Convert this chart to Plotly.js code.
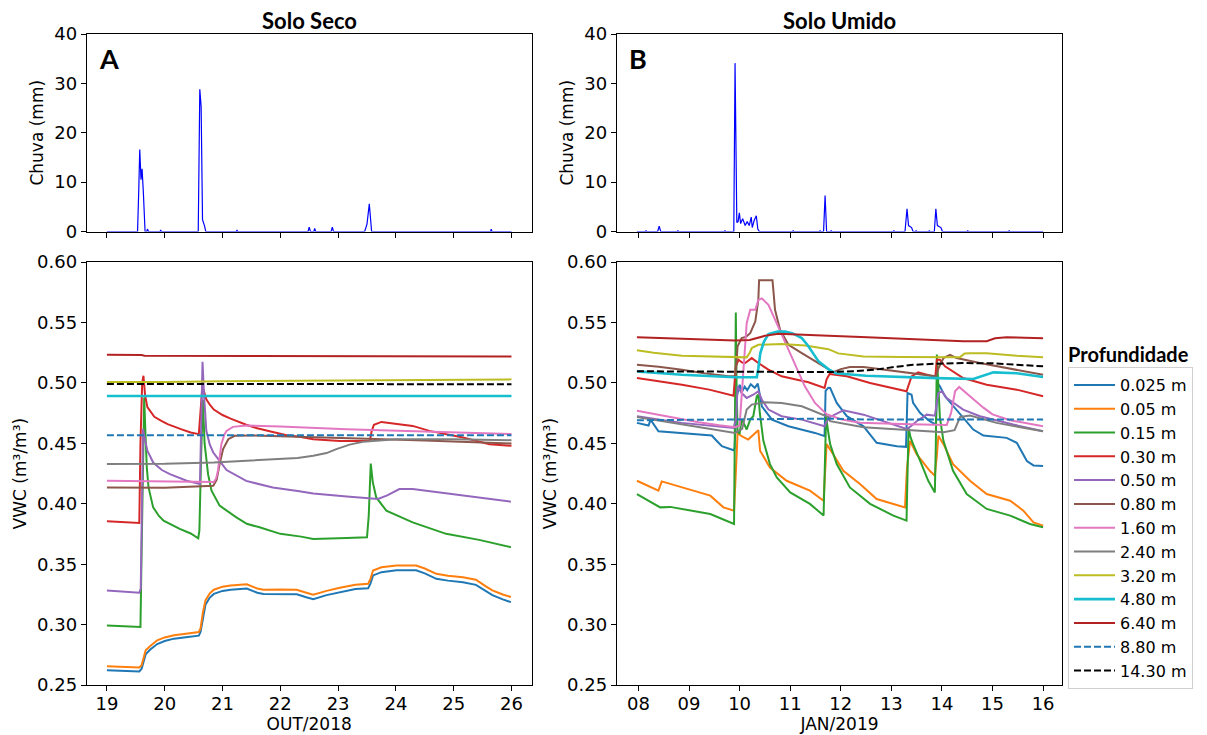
<!DOCTYPE html>
<html><head><meta charset="utf-8">
<script src="https://cdn.plot.ly/plotly-3.0.1.min.js"></script>
<style>html,body{margin:0;padding:0;background:#fff}#chart{width:1207px;height:735px}</style>
</head><body><div id="chart"></div>
<script>
// ---------------- DATA ----------------
const depthLabels = ['0.025 m','0.05 m','0.15 m','0.30 m','0.50 m','0.80 m','1.60 m','2.40 m','3.20 m','4.80 m','6.40 m','8.80 m','14.30 m'];

const secoTickVals = [19,20,21,22,23,24,25,26];
const secoTickText = ['19','20','21','22','23','24','25','26'];
const umidoTickVals = [8,9,10,11,12,13,14,15,16];
const umidoTickText = ['08','09','10','11','12','13','14','15','16'];
const vwcTickVals = [0.25,0.30,0.35,0.40,0.45,0.50,0.55,0.60];
const rainTickVals = [0,10,20,30,40];

// Rain (mm), Solo Seco (OUT/2018)
const rainSecoT = [19.00,19.53,19.55,19.568,19.59,19.608,19.63,19.66,19.69,19.70,19.72,19.92,19.93,19.94,20.58,20.607,20.63,20.654,20.69,20.71,21.24,21.25,21.26,22.48,22.50,22.52,22.58,22.595,22.61,22.88,22.90,22.92,23.46,23.50,23.54,23.58,25.64,25.65,25.66,26.00];
const rainSecoV = [0,0,8,16.6,10.5,12.7,8,0,0,0.5,0,0,0.3,0,0,28.8,25.3,2.4,1.1,0,0,0.3,0,0,0.9,0,0,0.6,0,0,0.9,0,0,1.5,5.6,0,0,0.5,0,0];

// Rain (mm), Solo Umido (JAN/2019)
const rainUmidoT = [7.97,8.14,8.15,8.16,8.38,8.41,8.44,8.77,8.78,8.79,9.70,9.71,9.72,9.885,9.91,9.93,9.945,9.97,9.995,10.02,10.06,10.11,10.15,10.19,10.23,10.25,10.29,10.33,10.36,10.39,11.05,11.06,11.07,11.58,11.59,11.60,11.66,11.69,11.72,11.80,11.81,11.82,13.04,13.05,13.06,13.27,13.31,13.34,13.40,13.43,13.48,13.49,13.50,13.74,13.75,13.76,13.85,13.88,13.91,13.98,14.01,14.50,14.51,14.52,15.32,15.33,15.34,16.00];
const rainUmidoV = [0,0,0.2,0,0,1.1,0,0,0.2,0,0,0.2,0,0,34.1,14,1.8,2.0,3.8,1.6,2.6,1.2,2.0,1.2,2.9,0.8,2.3,3.2,0.5,0,0,0.2,0,0,0.2,0,0,7.3,0,0,0.2,0,0,0.2,0,0,4.6,1.2,0.8,0,0,0.2,0,0,0.2,0,0,4.6,1.2,0.8,0,0,0.2,0,0,0.2,0,0];

// VWC (m3/m3), Solo Seco: [day, value]
const seco_0025 = [[19.0,0.2624],[19.3,0.2617],[19.56,0.2613],[19.60,0.2635],[19.67,0.2755],[19.75,0.2795],[19.87,0.284],[20.0,0.2865],[20.16,0.2885],[20.4,0.2898],[20.59,0.291],[20.62,0.294],[20.66,0.306],[20.705,0.3165],[20.78,0.3225],[20.85,0.3255],[21.0,0.328],[21.14,0.329],[21.42,0.330],[21.6,0.3265],[21.71,0.3255],[22.0,0.3255],[22.285,0.3252],[22.45,0.3228],[22.57,0.3212],[22.8,0.3245],[23.03,0.327],[23.3,0.3295],[23.52,0.3302],[23.56,0.334],[23.605,0.3408],[23.75,0.3435],[24.01,0.345],[24.35,0.345],[24.5,0.3425],[24.70,0.338],[24.9,0.3365],[25.16,0.3352],[25.385,0.333],[25.55,0.328],[25.67,0.3245],[25.85,0.321],[25.99,0.3187]];
const seco_005 = [[19.0,0.2657],[19.3,0.265],[19.56,0.2646],[19.60,0.2665],[19.67,0.2789],[19.75,0.2825],[19.87,0.2871],[20.0,0.2895],[20.16,0.2913],[20.4,0.2928],[20.59,0.294],[20.62,0.297],[20.66,0.310],[20.705,0.3201],[20.78,0.326],[20.85,0.329],[21.0,0.3315],[21.14,0.3325],[21.42,0.3334],[21.6,0.330],[21.71,0.329],[22.0,0.3292],[22.285,0.329],[22.45,0.3265],[22.57,0.3248],[22.8,0.328],[23.03,0.3306],[23.3,0.333],[23.52,0.3339],[23.56,0.338],[23.605,0.3449],[23.75,0.3475],[24.01,0.349],[24.35,0.349],[24.5,0.3465],[24.70,0.3421],[24.9,0.3405],[25.16,0.3393],[25.385,0.3372],[25.55,0.332],[25.67,0.3284],[25.85,0.325],[25.99,0.3229]];
const seco_015 = [[19.0,0.2993],[19.3,0.2985],[19.58,0.2981],[19.60,0.36],[19.625,0.45],[19.645,0.488],[19.665,0.46],[19.69,0.43],[19.72,0.4136],[19.80,0.3971],[19.90,0.390],[19.98,0.3861],[20.26,0.3793],[20.45,0.3755],[20.58,0.3715],[20.60,0.378],[20.63,0.44],[20.66,0.486],[20.69,0.45],[20.75,0.4246],[20.81,0.4109],[20.95,0.3985],[21.24,0.3889],[21.42,0.3835],[21.64,0.3806],[22.0,0.3752],[22.36,0.3729],[22.57,0.371],[23.15,0.3718],[23.50,0.3724],[23.53,0.39],[23.565,0.4334],[23.60,0.418],[23.66,0.4053],[23.835,0.3944],[24.29,0.3847],[24.87,0.3752],[25.44,0.3702],[25.99,0.3641]];
const seco_030 = [[19.0,0.3856],[19.3,0.3848],[19.35,0.3842],[19.56,0.3842],[19.58,0.45],[19.61,0.500],[19.632,0.506],[19.66,0.49],[19.70,0.480],[19.76,0.4755],[19.82,0.472],[19.95,0.4685],[20.05,0.466],[20.28,0.4618],[20.45,0.459],[20.59,0.4577],[20.62,0.475],[20.65,0.496],[20.67,0.4945],[20.72,0.4865],[20.78,0.482],[20.85,0.478],[21.0,0.4735],[21.14,0.4705],[21.41,0.4655],[21.6,0.4625],[21.87,0.4595],[22.11,0.4568],[22.33,0.4555],[22.57,0.4535],[23.03,0.4521],[23.55,0.452],[23.58,0.46],[23.62,0.4655],[23.75,0.4678],[24.0,0.4665],[24.29,0.4645],[24.58,0.4604],[25.16,0.4549],[25.62,0.4494],[26.0,0.448]];
const seco_050 = [[19.0,0.3284],[19.3,0.3275],[19.56,0.3265],[19.585,0.33],[19.60,0.40],[19.625,0.462],[19.65,0.455],[19.7,0.444],[19.80,0.4342],[19.95,0.428],[20.09,0.4246],[20.38,0.4191],[20.61,0.4164],[20.63,0.47],[20.654,0.5176],[20.68,0.49],[20.72,0.4604],[20.78,0.449],[20.84,0.4425],[20.95,0.4355],[21.07,0.428],[21.41,0.419],[21.87,0.4135],[22.33,0.4105],[22.57,0.4085],[23.15,0.406],[23.69,0.404],[23.85,0.407],[24.06,0.4123],[24.29,0.4123],[24.87,0.4087],[25.44,0.4053],[25.99,0.4018]];
const seco_080 = [[19.0,0.4136],[19.6,0.4131],[20.0,0.4133],[20.84,0.415],[20.9,0.420],[20.95,0.4329],[21.01,0.4453],[21.10,0.4535],[21.21,0.4563],[21.5,0.4566],[22.5,0.455],[23.5,0.4538],[24.5,0.4525],[25.3,0.451],[26.0,0.450]];
const seco_160 = [[19.0,0.4191],[20.0,0.4188],[20.85,0.418],[20.89,0.421],[20.92,0.4274],[20.98,0.4494],[21.03,0.457],[21.07,0.4604],[21.18,0.4637],[21.41,0.4648],[22.0,0.464],[23.15,0.4618],[24.29,0.4604],[25.2,0.459],[26.0,0.4577]];
const seco_240 = [[19.0,0.4329],[20.0,0.4331],[20.85,0.4342],[21.71,0.4362],[22.3,0.438],[22.57,0.4398],[22.8,0.442],[22.97,0.4453],[23.2,0.449],[23.43,0.4513],[24.0,0.4535],[25.0,0.4535],[26.0,0.4527]];
const seco_320 = [[19.0,0.5008],[20.0,0.5008],[21.0,0.5015],[22.0,0.5018],[23.0,0.5022],[24.0,0.5025],[25.0,0.5025],[26.0,0.503]];
const seco_480 = [[19.0,0.4893],[22.5,0.4893],[26.0,0.4893]];
const seco_640 = [[19.0,0.5233],[19.6,0.5232],[19.65,0.5225],[21.0,0.5224],[23.0,0.5222],[24.5,0.5221],[26.0,0.522]];
const seco_880 = [[19.0,0.4568],[22.5,0.4568],[26.0,0.4568]];
const seco_1430 = [[19.0,0.4992],[22.5,0.4991],[26.0,0.499]];

// VWC (m3/m3), Solo Umido: [day, value]
const umido_0025 = [[7.97,0.467],[8.20,0.4648],[8.23,0.4685],[8.26,0.4684],[8.395,0.4601],[8.8,0.4585],[9.19,0.4574],[9.45,0.4565],[9.55,0.452],[9.65,0.4477],[9.88,0.4444],[9.90,0.446],[9.95,0.490],[10.0,0.4985],[10.05,0.493],[10.1,0.497],[10.15,0.494],[10.22,0.499],[10.3,0.496],[10.36,0.4995],[10.44,0.4807],[10.64,0.4697],[10.965,0.4642],[11.49,0.4587],[11.68,0.456],[11.70,0.4934],[11.755,0.4961],[11.79,0.4959],[11.92,0.4835],[12.12,0.4725],[12.45,0.4642],[12.58,0.457],[12.71,0.4505],[13.11,0.4477],[13.29,0.4472],[13.32,0.4917],[13.40,0.4903],[13.43,0.4835],[13.57,0.4752],[13.76,0.4684],[13.88,0.4656],[13.91,0.500],[13.96,0.4973],[14.06,0.489],[14.29,0.478],[14.62,0.4615],[14.82,0.4565],[15.28,0.4546],[15.48,0.4505],[15.68,0.4354],[15.81,0.4318],[16.0,0.4313]];
const umido_005 = [[7.97,0.4191],[8.395,0.4109],[8.46,0.4186],[8.76,0.415],[9.42,0.4068],[9.68,0.3971],[9.89,0.3944],[9.93,0.43],[9.96,0.4587],[10.04,0.456],[10.17,0.4532],[10.31,0.4587],[10.37,0.461],[10.405,0.4439],[10.60,0.430],[10.93,0.4191],[11.39,0.4109],[11.66,0.4026],[11.69,0.43],[11.72,0.4494],[11.85,0.4411],[12.05,0.4274],[12.38,0.4164],[12.71,0.404],[13.27,0.3971],[13.31,0.43],[13.37,0.4521],[13.50,0.4411],[13.76,0.4274],[13.86,0.4233],[13.90,0.44],[13.93,0.4563],[14.03,0.4494],[14.22,0.4329],[14.555,0.4191],[14.885,0.4081],[15.35,0.4026],[15.61,0.3944],[15.81,0.3847],[16.0,0.382]];
const umido_015 = [[7.97,0.4081],[8.43,0.3971],[8.63,0.3975],[9.09,0.3944],[9.42,0.3916],[9.89,0.3834],[9.905,0.45],[9.925,0.5583],[9.94,0.50],[9.96,0.46],[10.0,0.458],[10.04,0.4697],[10.09,0.466],[10.14,0.4615],[10.21,0.4697],[10.27,0.4725],[10.34,0.489],[10.37,0.4903],[10.40,0.475],[10.47,0.4521],[10.60,0.4329],[10.735,0.4219],[11.0,0.4095],[11.39,0.400],[11.66,0.3903],[11.69,0.43],[11.71,0.472],[11.75,0.46],[11.79,0.4494],[11.92,0.4329],[12.18,0.4136],[12.58,0.400],[13.04,0.3903],[13.30,0.3861],[13.32,0.42],[13.34,0.4631],[13.38,0.455],[13.43,0.4494],[13.57,0.4356],[13.73,0.4191],[13.86,0.4095],[13.88,0.45],[13.90,0.5236],[13.93,0.5016],[13.96,0.4714],[14.03,0.4521],[14.22,0.4274],[14.49,0.4081],[14.885,0.3958],[15.35,0.3903],[15.74,0.3834],[16.0,0.3806]];
const umido_030 = [[7.97,0.5041],[8.86,0.4986],[9.4,0.4945],[9.88,0.4895],[9.925,0.5138],[9.98,0.5192],[10.05,0.517],[10.11,0.5165],[10.24,0.5206],[10.37,0.5165],[10.57,0.511],[10.83,0.5055],[11.36,0.5006],[11.68,0.4959],[11.72,0.503],[11.78,0.5075],[11.85,0.507],[12.12,0.5055],[12.58,0.500],[13.30,0.4931],[13.40,0.5055],[13.53,0.5088],[13.83,0.5055],[13.87,0.5055],[13.90,0.5192],[13.96,0.5192],[14.06,0.5138],[14.42,0.5041],[14.885,0.4986],[15.48,0.4945],[16.0,0.489]];
const umido_050 = [[7.97,0.4725],[8.86,0.467],[9.88,0.4628],[9.93,0.47],[9.96,0.4973],[10.04,0.4917],[10.14,0.4876],[10.27,0.4903],[10.37,0.4931],[10.44,0.4862],[10.57,0.478],[10.83,0.4725],[11.23,0.4697],[11.68,0.4642],[11.72,0.468],[11.79,0.4719],[12.05,0.4774],[12.45,0.4738],[13.30,0.462],[13.38,0.464],[13.50,0.4684],[13.70,0.4738],[13.86,0.473],[13.93,0.4917],[14.0,0.4931],[14.095,0.4876],[14.42,0.478],[14.75,0.4725],[15.41,0.4656],[16.0,0.4601]];
const umido_080 = [[7.97,0.5151],[8.4,0.5135],[8.86,0.511],[9.3,0.508],[9.78,0.5055],[9.92,0.5055],[9.96,0.5303],[10.04,0.5371],[10.12,0.538],[10.21,0.5412],[10.31,0.5509],[10.37,0.5687],[10.385,0.5849],[10.65,0.5849],[10.67,0.5756],[10.70,0.5605],[10.80,0.544],[10.965,0.5316],[11.23,0.5247],[11.5,0.518],[11.755,0.5115],[11.85,0.509],[12.0,0.5115],[12.18,0.5132],[12.45,0.5132],[13.11,0.5096],[13.76,0.506],[13.88,0.5055],[13.93,0.512],[14.03,0.5206],[14.16,0.5233],[14.29,0.5206],[14.75,0.5165],[15.41,0.5115],[16.0,0.5068]];
const umido_160 = [[7.97,0.4771],[8.53,0.4725],[9.19,0.4675],[9.6,0.465],[9.92,0.4634],[10.0,0.4648],[10.04,0.49],[10.075,0.5165],[10.14,0.5495],[10.21,0.5605],[10.31,0.5605],[10.37,0.5687],[10.44,0.570],[10.57,0.5646],[10.70,0.5522],[10.90,0.533],[11.10,0.5138],[11.29,0.4972],[11.49,0.4835],[11.72,0.4742],[12.0,0.470],[12.38,0.4672],[13.37,0.4659],[14.095,0.4653],[14.18,0.475],[14.26,0.4931],[14.34,0.4967],[14.45,0.4925],[14.555,0.489],[14.82,0.4796],[15.0,0.474],[15.35,0.4692],[16.0,0.4642]];
const umido_240 = [[7.97,0.4719],[8.86,0.4656],[9.91,0.4587],[10.05,0.462],[10.14,0.478],[10.24,0.4821],[10.50,0.484],[10.83,0.4835],[11.23,0.4807],[11.755,0.4719],[11.79,0.4684],[12.45,0.4634],[13.43,0.4606],[14.03,0.4593],[14.25,0.461],[14.36,0.4719],[14.555,0.473],[15.08,0.467],[16.0,0.4601]];
const umido_320 = [[7.97,0.527],[8.3,0.525],[8.86,0.5225],[9.4,0.5218],[9.88,0.5212],[10.14,0.5212],[10.2,0.525],[10.24,0.5289],[10.37,0.5316],[10.83,0.5322],[11.3,0.531],[11.755,0.528],[11.95,0.5245],[12.45,0.522],[13.2,0.5215],[13.9,0.5214],[14.36,0.5214],[14.45,0.5245],[14.555,0.5247],[14.885,0.5247],[15.48,0.5225],[16.0,0.5214]];
const umido_480 = [[7.97,0.5096],[8.86,0.5068],[9.91,0.5047],[10.34,0.5047],[10.37,0.512],[10.41,0.5247],[10.48,0.534],[10.57,0.5405],[10.75,0.5425],[10.90,0.5426],[11.05,0.541],[11.23,0.5371],[11.35,0.531],[11.43,0.5261],[11.56,0.5179],[11.755,0.5115],[11.9,0.508],[12.5,0.506],[13.11,0.5049],[13.9,0.504],[14.62,0.5033],[14.8,0.5055],[15.02,0.5088],[15.48,0.508],[16.0,0.5049]];
const umido_640 = [[7.97,0.5379],[8.5,0.537],[9.2,0.536],[9.91,0.5352],[10.2,0.5355],[10.5,0.539],[10.77,0.5407],[11.2,0.5398],[11.755,0.539],[12.4,0.538],[13.11,0.5366],[13.8,0.5355],[14.42,0.5346],[14.885,0.5346],[15.05,0.537],[15.28,0.5379],[15.6,0.5378],[16.0,0.5371]];
const umido_880 = [[7.97,0.4692],[9.0,0.4695],[10.0,0.4698],[11.0,0.470],[11.755,0.4705],[12.5,0.4698],[13.5,0.4698],[14.5,0.4695],[15.5,0.4692],[16.0,0.4698]];
const umido_1430 = [[7.97,0.5097],[9.0,0.5095],[10.0,0.509],[11.0,0.5089],[11.79,0.509],[12.3,0.5098],[12.78,0.5115],[13.1,0.5135],[13.43,0.515],[13.9,0.516],[14.42,0.5165],[15.0,0.5163],[15.5,0.515],[16.0,0.5138]];

const secoSeries = [seco_0025,seco_005,seco_015,seco_030,seco_050,seco_080,seco_160,seco_240,seco_320,seco_480,seco_640,seco_880,seco_1430];
const umidoSeries = [umido_0025,umido_005,umido_015,umido_030,umido_050,umido_080,umido_160,umido_240,umido_320,umido_480,umido_640,umido_880,umido_1430];

// ---------------- STYLE ----------------
const colors = ['#1f77b4','#ff7f0e','#2ca02c','#d62728','#9467bd','#8c564b','#e377c2','#7f7f7f','#bcbd22','#17becf','#b22222','#1f77b4','#000000'];
const dashes = ['solid','solid','solid','solid','solid','solid','solid','solid','solid','solid','solid','7px,3px','7px,3px'];
const widths = [2,2,2,2,2,2,2,2,2,2.6,2,2,2];

const W = 1207, H = 735;
const px = (a,b) => [a/W, b/W];
const py = (top,bottom) => [1-bottom/H, 1-top/H];
const LEFT = px(86.7,531.7), RIGHT = px(616.7,1062.3);
const TOP = py(34,231.5), BOT = py(262,685.3);

const traces = [];
secoSeries.forEach((s,i)=>{
  traces.push({type:'scatter',mode:'lines',x:s.map(p=>p[0]),y:s.map(p=>p[1]),xaxis:'x',yaxis:'y',
    name:depthLabels[i],legendgroup:depthLabels[i],showlegend:false,
    line:{color:colors[i],width:widths[i],dash:dashes[i]},hoverinfo:'skip'});
});
umidoSeries.forEach((s,i)=>{
  traces.push({type:'scatter',mode:'lines',x:s.map(p=>p[0]),y:s.map(p=>p[1]),xaxis:'x2',yaxis:'y2',
    name:depthLabels[i],legendgroup:depthLabels[i],showlegend:true,
    line:{color:colors[i],width:widths[i],dash:dashes[i]},hoverinfo:'skip'});
});
traces.push({type:'scatter',mode:'lines',x:rainSecoT,y:rainSecoV,xaxis:'x3',yaxis:'y3',showlegend:false,line:{color:'#0000ff',width:1.2},hoverinfo:'skip'});
traces.push({type:'scatter',mode:'lines',x:rainUmidoT,y:rainUmidoV,xaxis:'x4',yaxis:'y4',showlegend:false,line:{color:'#0000ff',width:1.2},hoverinfo:'skip'});

const tickFont = {family:'DejaVu Sans', size:18, color:'#000'};
const titleFont = {family:'DejaVu Sans', size:17, color:'#000'};
function ax(extra){
  return Object.assign({showline:true,linecolor:'#000',linewidth:1,mirror:true,ticks:'outside',ticklen:5,tickwidth:1,tickcolor:'#000',
    showgrid:false,zeroline:false,tickfont:tickFont,automargin:false,fixedrange:true}, extra);
}

const layout = {
  width:W, height:H, margin:{l:0,r:0,t:0,b:0}, paper_bgcolor:'#fff', plot_bgcolor:'#fff', showlegend:true,
  xaxis: ax({domain:LEFT, anchor:'y', range:[18.65,26.35], tickmode:'array', tickvals:secoTickVals, ticktext:secoTickText, ticklabelstandoff:-3,
    title:{text:'OUT/2018', font:titleFont, standoff:2}}),
  yaxis: ax({domain:BOT, anchor:'x', range:[0.2499,0.6001], tickmode:'array', tickvals:vwcTickVals, tickformat:'.2f',
    title:{text:'VWC (m³/m³)', font:titleFont, standoff:6}}),
  xaxis2: ax({domain:RIGHT, anchor:'y2', range:[7.57,16.38], tickmode:'array', tickvals:umidoTickVals, ticktext:umidoTickText, ticklabelstandoff:-3,
    title:{text:'JAN/2019', font:titleFont, standoff:2}}),
  yaxis2: ax({domain:BOT, anchor:'x2', range:[0.2499,0.6001], tickmode:'array', tickvals:vwcTickVals, tickformat:'.2f',
    title:{text:'VWC (m³/m³)', font:titleFont, standoff:6}}),
  xaxis3: ax({domain:LEFT, anchor:'y3', range:[18.65,26.35], tickmode:'array', tickvals:secoTickVals, showticklabels:false, layer:'below traces'}),
  yaxis3: ax({domain:TOP, anchor:'x3', range:[0,40], tickmode:'array', tickvals:rainTickVals,
    title:{text:'Chuva (mm)', font:titleFont, standoff:6}}),
  xaxis4: ax({domain:RIGHT, anchor:'y4', range:[7.57,16.38], tickmode:'array', tickvals:umidoTickVals, showticklabels:false, layer:'below traces'}),
  yaxis4: ax({domain:TOP, anchor:'x4', range:[0,40], tickmode:'array', tickvals:rainTickVals,
    title:{text:'Chuva (mm)', font:titleFont, standoff:6}}),
  legend:{x:1068/W, y:1-367/H, xanchor:'left', yanchor:'top', bgcolor:'#fff', bordercolor:'#d0d0d0', borderwidth:1,
    font:{family:'DejaVu Sans', size:16, color:'#000'}, itemwidth:41, tracegroupgap:0, itemclick:false, itemdoubleclick:false},
  annotations:[
    {text:'Solo Seco', xref:'paper', yref:'paper', x:(LEFT[0]+LEFT[1])/2, y:1-20/H, xanchor:'center', yanchor:'middle', showarrow:false,
      font:{family:'Lato', size:22, weight:'bold', color:'#000'}},
    {text:'Solo Umido', xref:'paper', yref:'paper', x:(RIGHT[0]+RIGHT[1])/2, y:1-20/H, xanchor:'center', yanchor:'middle', showarrow:false,
      font:{family:'Lato', size:22, weight:'bold', color:'#000'}},
    {text:'A', xref:'paper', yref:'paper', x:108.5/W, y:1-58/H, xanchor:'center', yanchor:'middle', showarrow:false,
      font:{family:'Lato', size:27, weight:'bold', color:'#000'}},
    {text:'B', xref:'paper', yref:'paper', x:638/W, y:1-58/H, xanchor:'center', yanchor:'middle', showarrow:false,
      font:{family:'Lato', size:27, weight:'bold', color:'#000'}},
    {text:'Profundidade', xref:'paper', yref:'paper', x:1066/W, y:1-354/H, xanchor:'left', yanchor:'middle', showarrow:false,
      font:{family:'Lato', size:20, weight:'bold', color:'#000'}}
  ]
};

Plotly.newPlot('chart', traces, layout, {staticPlot:true, displayModeBar:false});
</script>
</body></html>
